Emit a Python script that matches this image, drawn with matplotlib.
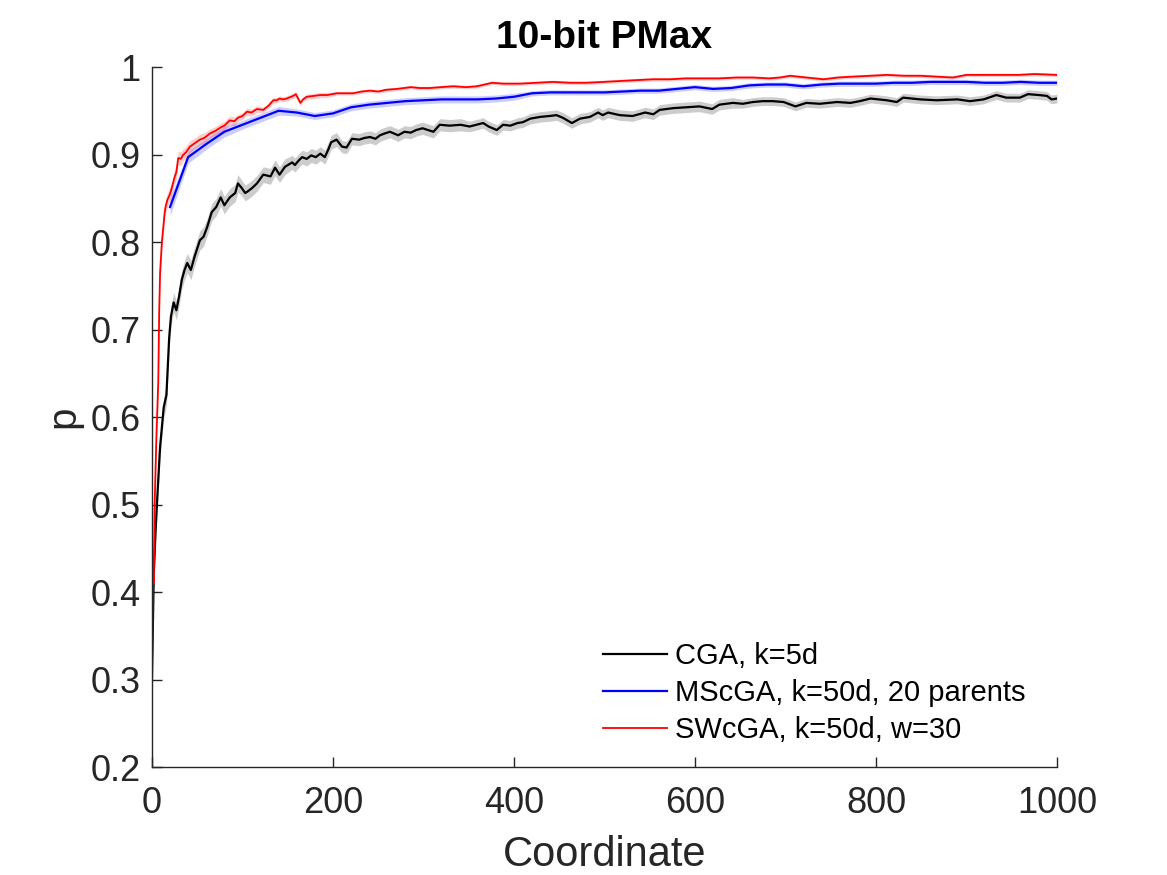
import numpy as np
import matplotlib
matplotlib.use("Agg")
import matplotlib.pyplot as plt

plt.rcParams['font.family'] = ['Liberation Sans', 'DejaVu Sans']

# CGA, k=5d
black_x = [0, 2, 4, 6, 9, 13, 15, 16, 19, 21,
           24, 27, 30, 33, 36, 39, 43, 47, 53, 57,
           61, 66, 71, 76, 80, 86, 92, 95, 99, 103,
           106, 111, 116, 123, 131, 136, 141, 147, 155, 158,
           162, 166, 171, 176, 181, 186, 191, 195, 198, 204,
           210, 215, 221, 229, 235, 241, 247, 252, 257, 263,
           272, 279, 286, 292, 299, 305, 311, 318, 329, 341,
           351, 366, 372, 381, 388, 396, 404, 410, 418, 429,
           439, 447, 454, 464, 473, 484, 493, 498, 504, 517,
           531, 545, 554, 561, 576, 590, 605, 619, 627, 642,
           653, 664, 675, 686, 698, 711, 723, 738, 757, 772,
           782, 794, 812, 823, 830, 849, 867, 890, 904, 919,
           933, 944, 959, 968, 980, 989, 994, 1000]
black_y = [0.300, 0.420, 0.470, 0.510, 0.566, 0.611, 0.620, 0.625, 0.690, 0.715,
           0.731, 0.722, 0.738, 0.757, 0.768, 0.776, 0.768, 0.783, 0.802, 0.806,
           0.817, 0.834, 0.840, 0.851, 0.842, 0.851, 0.856, 0.867, 0.862, 0.856,
           0.858, 0.862, 0.867, 0.877, 0.875, 0.885, 0.877, 0.886, 0.891, 0.888,
           0.893, 0.897, 0.895, 0.899, 0.897, 0.901, 0.897, 0.906, 0.914, 0.917,
           0.909, 0.908, 0.918, 0.917, 0.919, 0.920, 0.918, 0.922, 0.924, 0.926,
           0.922, 0.926, 0.925, 0.928, 0.930, 0.928, 0.926, 0.934, 0.933, 0.934,
           0.932, 0.936, 0.932, 0.928, 0.934, 0.933, 0.936, 0.937, 0.941, 0.943,
           0.944, 0.945, 0.942, 0.936, 0.941, 0.943, 0.948, 0.945, 0.948, 0.945,
           0.944, 0.948, 0.946, 0.951, 0.953, 0.954, 0.955, 0.952, 0.957, 0.959,
           0.958, 0.960, 0.961, 0.961, 0.960, 0.955, 0.959, 0.958, 0.960, 0.959,
           0.961, 0.964, 0.962, 0.960, 0.965, 0.963, 0.962, 0.963, 0.961, 0.963,
           0.968, 0.965, 0.965, 0.969, 0.968, 0.967, 0.963, 0.964]
black_err = [0.012, 0.012, 0.012, 0.012, 0.012, 0.012, 0.012, 0.012, 0.012, 0.012,
             0.011, 0.011, 0.011, 0.011, 0.011, 0.011, 0.011, 0.011, 0.011, 0.011,
             0.010, 0.010, 0.010, 0.010, 0.010, 0.010, 0.010, 0.010, 0.009, 0.009,
             0.009, 0.009, 0.009, 0.009, 0.009, 0.009, 0.009, 0.009, 0.008, 0.008,
             0.008, 0.008, 0.008, 0.008, 0.008, 0.008, 0.008, 0.008, 0.008, 0.008,
             0.007, 0.007, 0.007, 0.007, 0.007, 0.007, 0.007, 0.007, 0.007, 0.007,
             0.007, 0.007, 0.007, 0.007, 0.007, 0.007, 0.007, 0.007, 0.007, 0.007,
             0.006, 0.006, 0.006, 0.006, 0.006, 0.006, 0.006, 0.006, 0.006, 0.006,
             0.006, 0.006, 0.006, 0.006, 0.006, 0.006, 0.006, 0.006, 0.006, 0.006,
             0.006, 0.006, 0.006, 0.006, 0.006, 0.006, 0.006, 0.006, 0.006, 0.006,
             0.005, 0.005, 0.005, 0.005, 0.005, 0.005, 0.005, 0.005, 0.005, 0.005,
             0.005, 0.005, 0.005, 0.005, 0.005, 0.005, 0.005, 0.005, 0.005, 0.005,
             0.005, 0.005, 0.005, 0.005, 0.005, 0.005, 0.005, 0.005]

# MScGA, k=50d, 20 parents
blue_x = [20, 40, 60, 80, 100, 120, 140, 160, 180, 200,
          220, 240, 260, 280, 300, 320, 340, 360, 380, 400,
          420, 440, 460, 480, 500, 520, 540, 560, 580, 600,
          620, 640, 660, 680, 700, 720, 740, 760, 780, 800,
          820, 840, 860, 880, 900, 920, 940, 960, 980, 1000]
blue_y = [0.840, 0.897, 0.912, 0.926, 0.934, 0.942, 0.950, 0.948, 0.944, 0.947,
          0.954, 0.957, 0.959, 0.961, 0.962, 0.963, 0.963, 0.963, 0.964, 0.966,
          0.970, 0.971, 0.971, 0.971, 0.971, 0.972, 0.973, 0.973, 0.975, 0.977,
          0.975, 0.976, 0.979, 0.980, 0.980, 0.978, 0.980, 0.981, 0.981, 0.981,
          0.982, 0.982, 0.983, 0.983, 0.983, 0.982, 0.982, 0.983, 0.982, 0.982]
blue_err = [0.010, 0.007, 0.006, 0.006, 0.005, 0.005, 0.005, 0.004, 0.004, 0.004,
            0.004, 0.004, 0.004, 0.004, 0.004, 0.004, 0.004, 0.004, 0.004, 0.004,
            0.003, 0.003, 0.003, 0.003, 0.003, 0.003, 0.003, 0.003, 0.003, 0.003,
            0.003, 0.003, 0.003, 0.003, 0.003, 0.003, 0.003, 0.003, 0.003, 0.003,
            0.003, 0.003, 0.003, 0.003, 0.003, 0.003, 0.003, 0.003, 0.003, 0.003]

# SWcGA, k=50d, w=30
red_x = [0, 1, 2, 3, 5, 7, 8, 9, 11, 14,
         15, 17, 20, 22, 25, 27, 29, 32, 34, 38,
         42, 46, 53, 58, 64, 70, 76, 80, 86, 91,
         95, 100, 105, 110, 116, 123, 129, 134, 138, 141,
         145, 149, 156, 159, 164, 167, 171, 179, 186, 194,
         204, 213, 222, 232, 241, 250, 259, 271, 286, 296,
         307, 319, 333, 347, 359, 376, 388, 407, 425, 443,
         462, 480, 499, 517, 535, 554, 572, 590, 609, 627,
         646, 664, 682, 694, 705, 723, 742, 758, 774, 794,
         812, 831, 849, 867, 885, 900, 923, 941, 958, 975, 1000]
red_y = [0.300, 0.430, 0.410, 0.500, 0.580, 0.640, 0.720, 0.765, 0.800, 0.833,
         0.840, 0.848, 0.855, 0.862, 0.874, 0.880, 0.896, 0.895, 0.899, 0.903,
         0.909, 0.912, 0.917, 0.919, 0.924, 0.927, 0.931, 0.933, 0.939, 0.938,
         0.942, 0.944, 0.949, 0.948, 0.952, 0.951, 0.956, 0.962, 0.962, 0.964,
         0.963, 0.964, 0.967, 0.969, 0.959, 0.963, 0.966, 0.967, 0.968, 0.968,
         0.970, 0.970, 0.970, 0.972, 0.973, 0.972, 0.974, 0.975, 0.977, 0.976,
         0.976, 0.977, 0.978, 0.977, 0.978, 0.982, 0.981, 0.981, 0.982, 0.983,
         0.982, 0.982, 0.983, 0.984, 0.985, 0.986, 0.986, 0.987, 0.987, 0.987,
         0.988, 0.988, 0.987, 0.988, 0.990, 0.988, 0.986, 0.988, 0.989, 0.990,
         0.991, 0.990, 0.990, 0.989, 0.988, 0.991, 0.991, 0.991, 0.991, 0.992, 0.991]
red_err = [0.009, 0.009, 0.009, 0.009, 0.009, 0.009, 0.009, 0.009, 0.009, 0.009,
           0.008, 0.008, 0.008, 0.008, 0.008, 0.008, 0.008, 0.008, 0.007, 0.007,
           0.007, 0.006, 0.006, 0.006, 0.005, 0.005, 0.005, 0.005, 0.005, 0.005,
           0.004, 0.004, 0.004, 0.004, 0.004, 0.003, 0.003, 0.003, 0.003, 0.003,
           0.003, 0.003, 0.003, 0.003, 0.003, 0.003, 0.003, 0.003, 0.003, 0.003,
           0.002, 0.002, 0.002, 0.002, 0.002, 0.002, 0.002, 0.002, 0.002, 0.002,
           0.002, 0.002, 0.002, 0.002, 0.002, 0.002, 0.002, 0.002, 0.002, 0.002,
           0.002, 0.002, 0.002, 0.002, 0.002, 0.002, 0.002, 0.002, 0.002, 0.002,
           0.002, 0.002, 0.002, 0.002, 0.002, 0.002, 0.002, 0.002, 0.002, 0.002,
           0.002, 0.002, 0.002, 0.002, 0.002, 0.002, 0.002, 0.002, 0.002, 0.002, 0.002]

labels = ['CGA, k=5d', 'MScGA, k=50d, 20 parents', 'SWcGA, k=50d, w=30']

fig = plt.figure(figsize=(11.67, 8.75), dpi=100)
ax = fig.add_axes([0.1302, 0.1234, 0.7755, 0.8])

series = [(black_x, black_y, black_err, '#000000', 1.6),
          (blue_x, blue_y, blue_err, '#0000ff', 1.6),
          (red_x, red_y, red_err, '#ff0000', 1.3)]
for (xs, ys, es, col, lw), lab in zip(series, labels):
    xs = np.array(xs)
    ys = np.array(ys)
    es = np.array(es)
    ax.fill_between(xs, ys - es, ys + es, color=col, alpha=0.2, linewidth=0)
    ax.plot(xs, ys, color=col, lw=lw, label=lab)

ax.set_xlim(0, 1000)
ax.set_ylim(0.2, 1.0)
ax.set_xticks([0, 200, 400, 600, 800, 1000])
ax.set_yticks([0.2, 0.3, 0.4, 0.5, 0.6, 0.7, 0.8, 0.9, 1])
ax.set_yticklabels(['0.2', '0.3', '0.4', '0.5', '0.6', '0.7', '0.8', '0.9', '1'])

for s in ['top', 'right']:
    ax.spines[s].set_visible(False)
for s in ['left', 'bottom']:
    ax.spines[s].set_color('#262626')
    ax.spines[s].set_linewidth(1.0)
ax.tick_params(axis='both', direction='in', length=7, width=1.0,
               colors='#262626', labelsize=26)
ax.tick_params(axis='x', pad=14)
ax.tick_params(axis='y', pad=8)

ax.set_xlabel('Coordinate', fontsize=30, color='#262626', labelpad=10)
ax.set_ylabel('p', fontsize=29, color='#262626', labelpad=6)
ax.set_title('10-bit PMax', fontsize=28, fontweight='bold', pad=14)

ax.legend(loc='lower right', bbox_to_anchor=(0.968, 0.029), frameon=False,
          fontsize=21, handlelength=2.2, handletextpad=0.25,
          labelspacing=0.3, borderaxespad=0.0, borderpad=0.1)

fig.savefig('out.png', dpi=100)
